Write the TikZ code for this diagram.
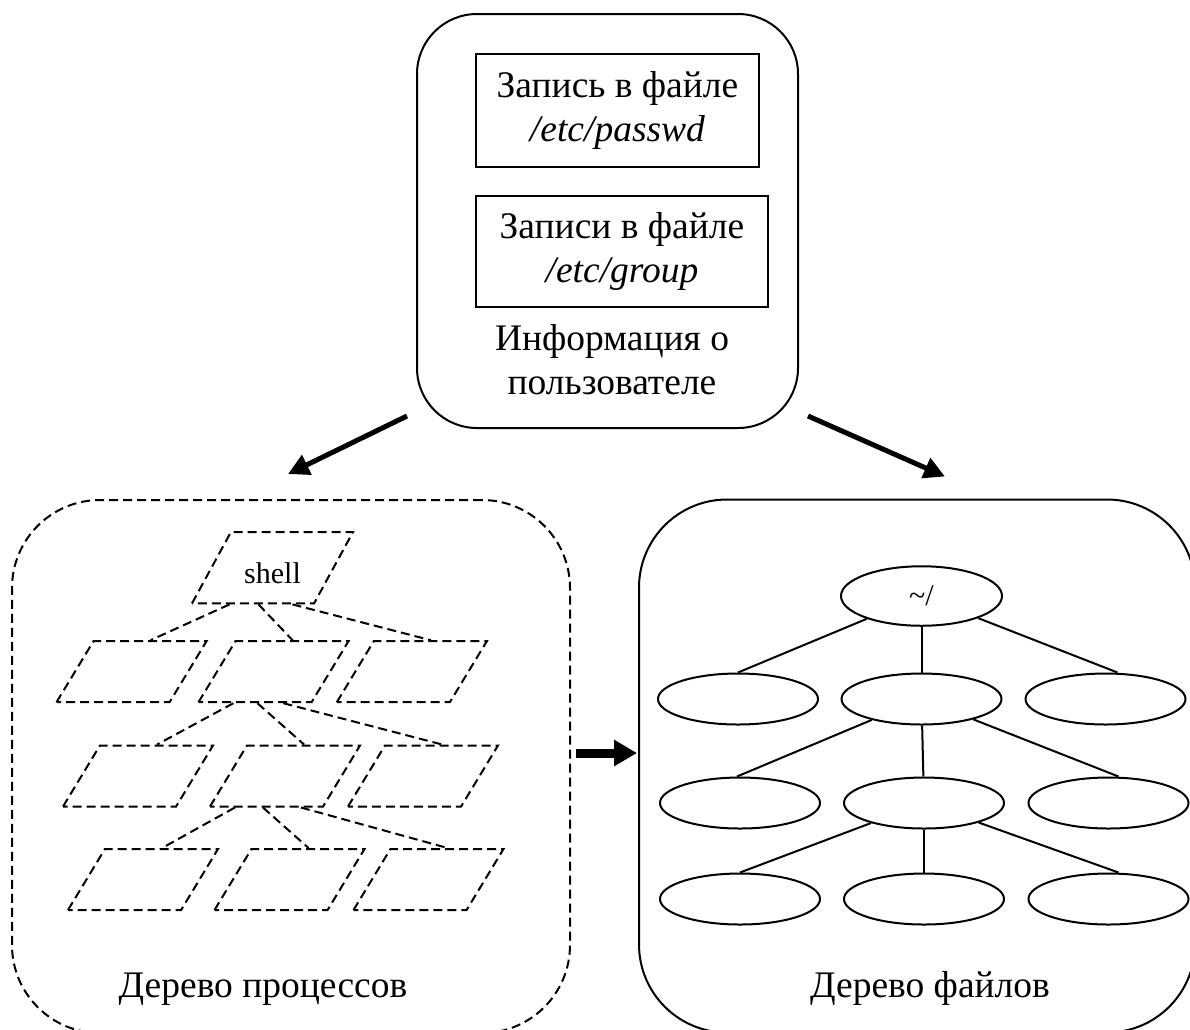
\documentclass[tikz,border=0pt]{standalone}
\usepackage{fontspec}
\setmainfont{Liberation Serif}
\usetikzlibrary{shapes.geometric,arrows.meta,calc}

\begin{document}
\begin{tikzpicture}[x=1pt,y=-1pt,
  line width=2pt,
  big/.style={font=\fontsize{37.5}{44}\selectfont},
  small/.style={font=\fontsize{30}{34}\selectfont},
  dsh/.style={dash pattern=on 9pt off 5pt},
  panel/.style={draw, rounded corners=88pt, minimum width=#1, minimum height=533pt, inner sep=0pt},
  recbox/.style={draw, big, align=center, inner sep=0pt},
  procbox/.style={trapezium, trapezium left angle=58.8, trapezium right angle=121.2,
    trapezium stretches body, draw, dsh, minimum width=150pt, inner sep=0pt,
    text height=61pt, text depth=0pt},
  dirnode/.style={ellipse, draw, minimum width=160pt, minimum height=51pt, inner sep=0pt},
  link/.style={dsh},
  arr/.style={line width=5pt, -{Triangle[length=21pt,width=21pt]}},
  harr/.style={line width=9pt, -{Triangle[length=23pt,width=25pt]}}
]
\useasboundingbox (0,0) rectangle (1190,1029);

% user information block
\node[draw, rounded corners=60pt, minimum width=381pt, minimum height=414pt, inner sep=0pt] (user) at (607.5,221) {};
\node[recbox, minimum width=283pt, minimum height=113pt] (pw) at (617.5,110.5) {Запись в файле\\\textit{/etc/passwd}};
\node[recbox, minimum width=292pt, minimum height=111pt] (gr) at (622,251.5) {Записи в файле\\\textit{/etc/group}};
\node[big, align=center] (ulbl) at (612,360) {Информация о\\пользователе};

% process tree panel
\node[panel=558pt, dsh] (proc) at (291,766.5) {};
\node[big, anchor=base] (proclbl) at (263,997) {Дерево процессов};

\node[procbox, small, trapezium left angle=61.4, trapezium right angle=118.6,
      minimum width=161pt, text height=51.4pt, text depth=20pt] (sh) at (272.5,567.7) {shell};

\node[procbox] (p11) at (131.5,671.7) {};
\node[procbox] (p12) at (273.5,671.7) {};
\node[procbox] (p13) at (411.8,671.7) {};

\node[procbox] (p21) at (138,776) {};
\node[procbox] (p22) at (285,776) {};
\node[procbox] (p23) at (423,776) {};

\node[procbox] (p31) at (143,879.5) {};
\node[procbox] (p32) at (289.5,879.5) {};
\node[procbox] (p33) at (428.5,879.5) {};

\draw[link] ([xshift=-23pt]sh.bottom side) -- (p11.top side);
\draw[link] ([xshift=6pt]sh.bottom side) -- (p12.top side);
\draw[link] ([xshift=40pt]sh.bottom side) -- (p13.top side);

\draw[link] ([xshift=-21pt]p12.bottom side) -- (p21.top side);
\draw[link] ([xshift=3pt]p12.bottom side) -- (p22.top side);
\draw[link] ([xshift=29pt]p12.bottom side) -- (p23.top side);

\draw[link] ([xshift=-31pt]p22.bottom side) -- (p31.top side);
\draw[link] ([xshift=-3pt]p22.bottom side) -- (p32.top side);
\draw[link] ([xshift=35pt]p22.bottom side) -- (p33.top side);

% file tree panel
\node[panel=556pt] (files) at (917,766) {};
\node[big, anchor=base] (fileslbl) at (930,997) {Дерево файлов};

\node[dirnode, small, minimum width=161pt, minimum height=59.5pt] (home) at (921.5,596) {\textasciitilde/};

\node[dirnode] (d11) at (738,699) {};
\node[dirnode] (d12) at (921.5,699) {};
\node[dirnode] (d13) at (1105.5,699) {};

\node[dirnode] (d21) at (740,803) {};
\node[dirnode] (d22) at (924,803) {};
\node[dirnode] (d23) at (1108.5,803) {};

\node[dirnode] (d31) at (740,899) {};
\node[dirnode] (d32) at (924,899) {};
\node[dirnode] (d33) at (1108.5,899) {};

\draw (home) -- (d11.north);
\draw (home) -- (d12);
\draw (home) -- ([xshift=12pt]d13.north);

\draw (d12) -- ([xshift=-3pt]d21.north);
\draw (d12) -- (d22);
\draw (d12) -- ([xshift=10pt]d23.north);

\draw (d22) -- (d31.north);
\draw (d22) -- (d32);
\draw (d22) -- ([xshift=10pt]d33.north);

% arrows between the blocks
\coordinate (a1s) at ($(user.south west)+(-9,-13)$);
\coordinate (a1e) at ($(proc.north)+(-3,-25)$);
\coordinate (a2s) at ($(user.south east)+(9,-13)$);
\coordinate (a2e) at ($(files.north)+(28,-22)$);
\coordinate (a3s) at ($(proc.east)+(5,-13.5)$);
\coordinate (a3e) at ($(files.west)+(-1,-13)$);

\draw[arr] (a1s) -- (a1e);
\draw[arr] (a2s) -- (a2e);
\draw[harr] (a3s) -- (a3e);
\end{tikzpicture}
\end{document}
